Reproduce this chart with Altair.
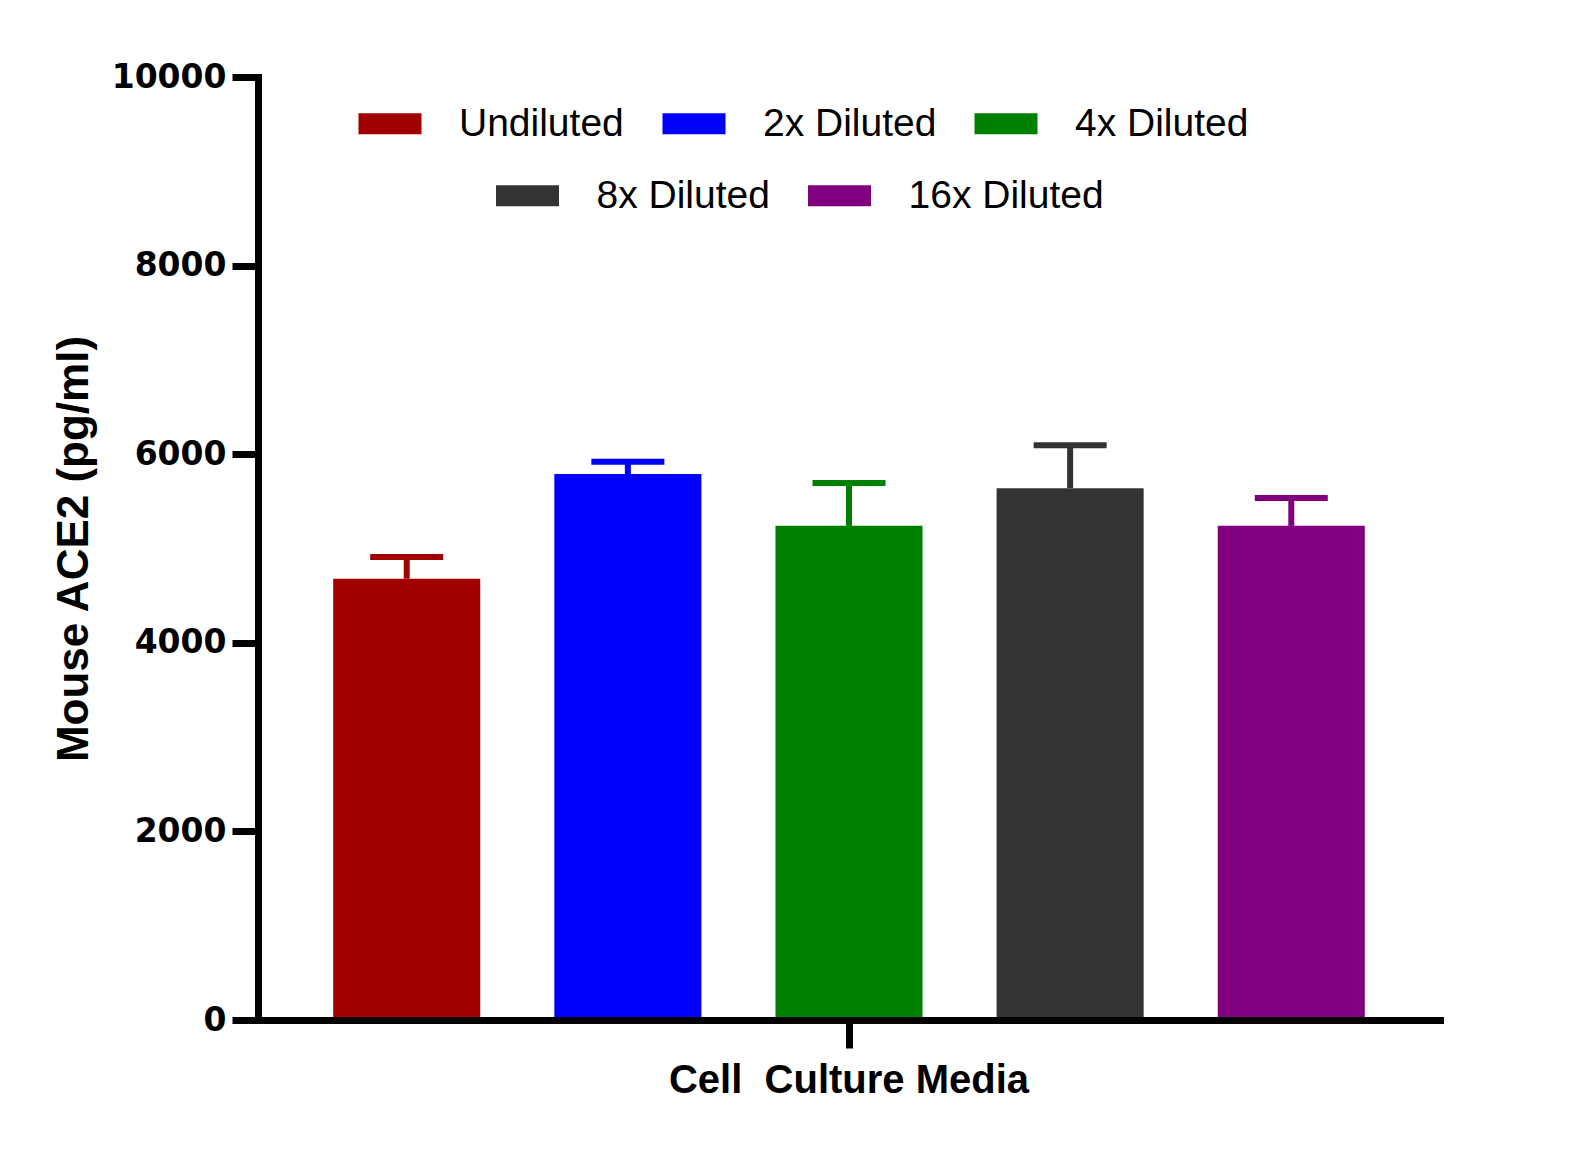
import altair as alt
import pandas as pd

series = ["Undiluted", "2x Diluted", "4x Diluted", "8x Diluted", "16x Diluted"]
means = [4680, 5790, 5240, 5640, 5240]
errs = [230, 130, 455, 455, 295]
colors = ["#A00000", "#0000FF", "#008000", "#333333", "#800080"]
group = "Cell\u00a0 Culture Media"
y_ticks = [0, 2000, 4000, 6000, 8000, 10000]

df = pd.DataFrame({
    "group": [group] * len(series),
    "series": series,
    "mean": means,
    "top": [m + e for m, e in zip(means, errs)],
})

dfA = df[df["series"].isin(series[:3])]
dfB = df[df["series"].isin(series[3:])]

x_enc = alt.X("group:N", title=None,
              scale=alt.Scale(paddingInner=0, paddingOuter=0),
              axis=alt.Axis(labelFont="Liberation Sans", labelFontWeight="bold",
                            labelFontSize=40, labelColor="black", labelAngle=0,
                            labelPadding=12, labelLimit=800, tickSize=28, tickWidth=7,
                            tickColor="black", domainWidth=7, domainColor="black",
                            domainCap="square", zindex=1))
xo_enc = alt.XOffset("series:N", sort=series,
                     scale=alt.Scale(domain=series, paddingInner=0.335, paddingOuter=0.34))
y_axis = alt.Axis(values=y_ticks, format="d", labelFont="DejaVu Sans", labelFontWeight="bold",
                  labelFontSize=33, labelColor="black", labelPadding=6,
                  tickSize=26, tickWidth=7, tickColor="black",
                  domainWidth=7, domainColor="black", domainCap="square",
                  title="Mouse ACE2 (pg/ml)", titleFont="Liberation Sans",
                  titleFontWeight="bold", titleFontSize=44, titleColor="black",
                  titlePadding=15, grid=False, zindex=1)
y_scale = alt.Scale(domain=[0, 10000], nice=False)

rect_path = "M-3,-1H3V1H-3Z"


def make_layers(data, names, cols, lx, ly):
    cscale = alt.Scale(domain=names, range=cols)
    legend = alt.Legend(title=None, orient="none", legendX=lx, legendY=ly,
                        direction="horizontal", symbolType=rect_path, symbolSize=441,
                        symbolStrokeWidth=0, symbolOpacity=1, labelFont="Liberation Sans",
                        labelFontSize=39, labelColor="black", labelOffset=49.5,
                        columnPadding=38, labelLimit=400)
    base = alt.Chart(data)
    bars = base.mark_bar().encode(
        x=x_enc, xOffset=xo_enc,
        y=alt.Y("mean:Q", scale=y_scale, axis=y_axis),
        color=alt.Color("series:N", scale=cscale, legend=legend, sort=names),
    )
    rules = base.mark_rule(strokeWidth=6, opacity=1).encode(
        x=x_enc, xOffset=xo_enc,
        y=alt.Y("mean:Q", scale=y_scale, axis=y_axis), y2="top:Q",
        color=alt.Color("series:N", scale=cscale, legend=None),
    )
    caps = base.mark_tick(thickness=6, size=73, orient="horizontal", opacity=1).encode(
        x=x_enc, xOffset=xo_enc,
        y=alt.Y("top:Q", scale=y_scale, axis=y_axis),
        color=alt.Color("series:N", scale=cscale, legend=None),
    )
    return [bars, rules, caps]


layers = make_layers(dfA, series[:3], colors[:3], 112.5, 27) + \
         make_layers(dfB, series[3:], colors[3:], 250, 99)

chart = alt.layer(*layers).resolve_scale(color="independent").properties(
    width=1182, height=943,
    background="white",
    autosize=alt.AutoSizeParams(type="none"),
    padding={"left": 250, "top": 69, "right": 120, "bottom": 130},
).configure_view(strokeWidth=0)

chart.save("out.html", embed_options={"renderer": "svg", "actions": False})
